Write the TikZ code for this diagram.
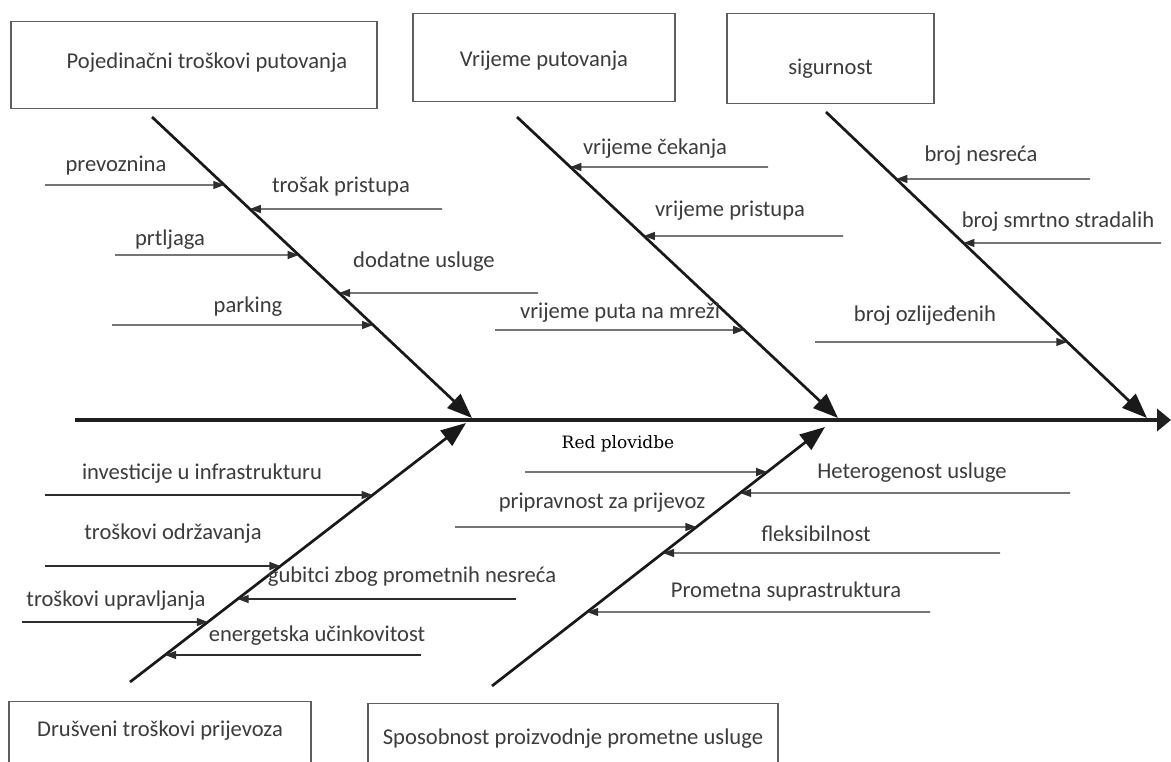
\documentclass[tikz,border=0pt]{standalone}
\usepackage{fontspec}
\setmainfont{Carlito}
\newfontfamily\rpfont{DejaVu Serif}
\usetikzlibrary{arrows.meta,calc}
\definecolor{txtgray}{RGB}{60,60,60}
\definecolor{boxgray}{RGB}{95,95,95}
\definecolor{linegray}{RGB}{45,45,45}
\newcommand{\fbcause}[7]{%
  \coordinate (#1s) at (#3,#4);
  \coordinate (#1h) at ($(#1s)+(10,0)$);
  \coordinate (#1e) at (intersection of #2s--#2e and #1s--#1h);
  \draw[cause] (#1s) -- (#1e);
  \node[lbl] (#1t) at (#5,#6) {#7};
}
\begin{document}
\begin{tikzpicture}[x=1pt,y=-1pt,
  boxnode/.style={draw=boxgray,line width=1.3pt,inner sep=0pt,anchor=north,
    text=txtgray,font=\fontsize{22.6}{26}\selectfont},
  lbl/.style={text=txtgray,font=\fontsize{22.6}{26}\selectfont,inner sep=0pt},
  bone/.style={line width=2.7pt,draw=black!90,-{Triangle[length=25pt,width=19pt]}},
  spine/.style={line width=3.8pt,draw=black!88,-{Triangle[length=14pt,width=22pt]}},
  cause/.style={line width=1.2pt,draw=linegray,-{Triangle[length=11pt,width=8pt]}},
]
\useasboundingbox (0,0) rectangle (1171,762);
\clip (0,0) rectangle (1171,762);
\fill[white] (0,0) rectangle (1171,762);

% category boxes
\node[boxnode,minimum width=366pt,text height=47pt,text depth=40pt] (boxA) at (194,21) {\hspace*{26pt}Pojedinačni troškovi putovanja};
\node[boxnode,minimum width=262pt,text height=53pt,text depth=35pt] (boxB) at (544,13) {Vrijeme putovanja};
\node[boxnode,minimum width=207pt,text height=61pt,text depth=29pt] (boxC) at (830.5,13) {sigurnost};
\node[boxnode,minimum width=302pt,text height=35pt,text depth=50pt] (boxD) at (160,701) {Drušveni troškovi prijevoza};
\node[boxnode,minimum width=410pt,text height=41pt,text depth=45pt] (boxE) at (573,703) {Sposobnost proizvodnje prometne usluge};

% spine
\coordinate (sps) at (75,420);
\coordinate (spe) at (1171,420);
\draw[spine] (sps) -- (spe);

% bones
\coordinate (b1s) at (152,117); \coordinate (b1e) at (472,418);
\coordinate (b2s) at (517,117); \coordinate (b2e) at (838,418);
\coordinate (b3s) at (826,112); \coordinate (b3e) at (1147,418);
\coordinate (b4s) at (130,682); \coordinate (b4e) at (466,423);
\coordinate (b5s) at (492,686); \coordinate (b5e) at (825,427);
\foreach \b in {b1,b2,b3,b4,b5} \draw[bone] (\b s) -- (\b e);

% causes on bone 1
\fbcause{a1}{b1}{45}{185}{116}{166}{prevoznina}
\fbcause{a2}{b1}{442}{209}{341}{186}{trošak pristupa}
\fbcause{a3}{b1}{115}{255}{170}{240}{prtljaga}
\fbcause{a4}{b1}{538}{293}{424}{262}{dodatne usluge}
\fbcause{a5}{b1}{112}{325}{248}{307}{parking}
% bone 2
\fbcause{c1}{b2}{768}{167}{655}{149}{vrijeme čekanja}
\fbcause{c2}{b2}{843}{236}{730}{211}{vrijeme pristupa}
\fbcause{c3}{b2}{495}{330}{620}{313}{vrijeme puta na mreži}
% bone 3
\fbcause{d1}{b3}{1090}{179}{981}{156}{broj nesreća}
\fbcause{d2}{b3}{1161}{243}{1058}{222}{broj smrtno stradalih}
\fbcause{d3}{b3}{815}{342}{925}{316}{broj ozlijeđenih}
% bone 4
\fbcause{e1}{b4}{45}{495}{202}{474}{investicije u infrastrukturu}
\fbcause{e2}{b4}{45}{566}{173}{534}{troškovi održavanja}
\fbcause{e3}{b4}{516}{599}{412}{577}{gubitci zbog prometnih nesreća}
\fbcause{e4}{b4}{22}{622}{116}{601}{troškovi upravljanja}
\fbcause{e5}{b4}{421}{655}{317}{636}{energetska učinkovitost}
% bone 5
\fbcause{f1}{b5}{525}{472}{618}{444}{\rpfont\fontsize{17}{20}\selectfont\color{black}Red plovidbe}
\fbcause{f2}{b5}{1070}{493}{912}{473}{Heterogenost usluge}
\fbcause{f3}{b5}{455}{527}{602}{503}{pripravnost za prijevoz}
\fbcause{f4}{b5}{1000}{553}{816}{534}{fleksibilnost}
\fbcause{f5}{b5}{930}{612}{786}{591}{Prometna suprastruktura}
\end{tikzpicture}
\end{document}
